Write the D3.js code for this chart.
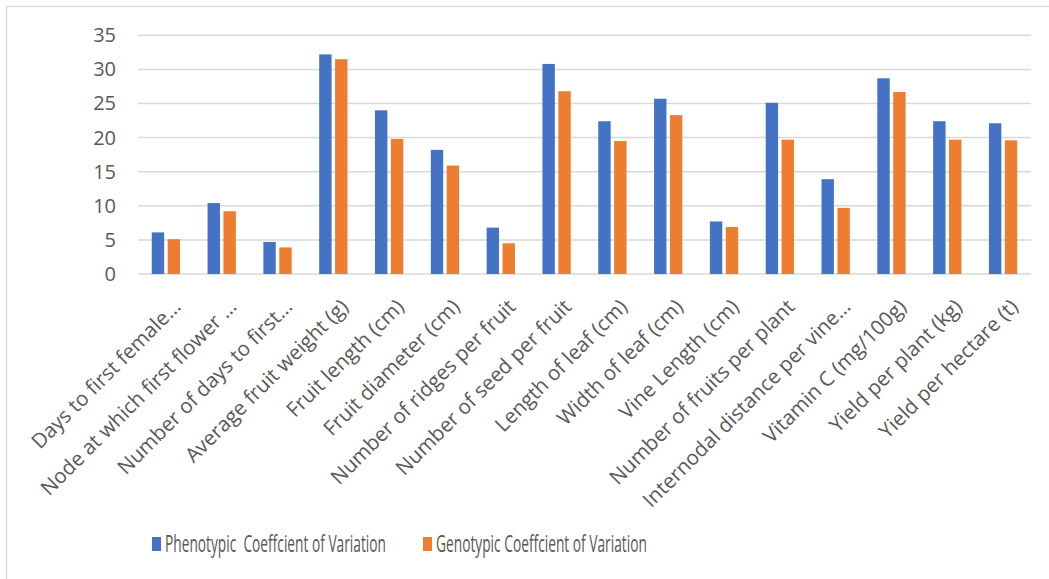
<!DOCTYPE html>
<html>
<head>
<meta charset="utf-8">
<script src="https://cdn.jsdelivr.net/npm/d3@7"></script>
<style>
  html, body { margin: 0; padding: 0; background: #fff; }
  svg { display: block; }
  text { font-family: "Open Sans", "Noto Sans", sans-serif; fill: #595959; }
</style>
</head>
<body>
<svg id="chart" width="1049" height="579"></svg>
<script>
// Traits measured
const categories = [
  "Days to first female\u2026",
  "Node at which first flower \u2026",
  "Number of days to first\u2026",
  "Average fruit weight (g)",
  "Fruit length (cm)",
  "Fruit diameter (cm)",
  "Number of ridges per fruit",
  "Number of seed per fruit",
  "Length of leaf (cm)",
  "Width of leaf (cm)",
  "Vine Length (cm)",
  "Number of fruits per plant",
  "Internodal distance per vine\u2026",
  "Vitamin C (mg/100g)",
  "Yield per plant (kg)",
  "Yield per hectare (t)"
];

// Phenotypic coefficient of variation (%)
const pcv = [6.1, 10.4, 4.7, 32.2, 24.0, 18.2, 6.8, 30.8, 22.4, 25.7, 7.7, 25.1, 13.9, 28.7, 22.4, 22.1];
// Genotypic coefficient of variation (%)
const gcv = [5.1, 9.2, 3.9, 31.5, 19.8, 15.9, 4.5, 26.8, 19.5, 23.3, 6.9, 19.7, 9.7, 26.7, 19.7, 19.6];

const seriesNames = ["Phenotypic  Coeffcient of Variation", "Genotypic Coeffcient of Variation"];
const seriesColors = ["#4472C4", "#ED7D31"];
const yTicks = [0, 5, 10, 15, 20, 25, 30, 35];

const rows = categories.map((c, i) => ({ cat: c, values: [pcv[i], gcv[i]] }));

const svg = d3.select("#chart");
const W = 1049, H = 579;
const plot = { left: 138, right: 1031, top: 35.3, bottom: 274 };

// Outer frame (top and left edges)
svg.append("line").attr("x1", 6.5).attr("x2", W).attr("y1", 6.5).attr("y2", 6.5)
  .attr("stroke", "#d9d9d9").attr("stroke-width", 1.5);
svg.append("line").attr("x1", 6.5).attr("x2", 6.5).attr("y1", 6.5).attr("y2", H)
  .attr("stroke", "#d9d9d9").attr("stroke-width", 1.5);

const x0 = d3.scaleBand().domain(categories)
  .range([plot.left, plot.right]).paddingInner(0.493).paddingOuter(0.2465);
const x1 = d3.scaleBand().domain([0, 1]).range([0, x0.bandwidth()]).paddingInner(0.22);
const y = d3.scaleLinear().domain([0, 35]).range([plot.bottom, plot.top]);

// Gridlines
svg.append("g").selectAll("line").data(yTicks).join("line")
  .attr("x1", plot.left).attr("x2", plot.right)
  .attr("y1", d => y(d)).attr("y2", d => y(d))
  .attr("stroke", "#d9d9d9").attr("stroke-width", 1.5);

// Y axis labels
const yAxis = d3.axisLeft(y).tickValues(yTicks).tickSize(0).tickPadding(0);
const yg = svg.append("g").attr("transform", `translate(116,0)`).call(yAxis);
yg.select(".domain").remove();
yg.selectAll("text").attr("font-size", 20).style("fill", "#595959")
  .style("font-family", "\"Open Sans\", sans-serif");

// Bars
const groups = svg.append("g").selectAll("g").data(rows).join("g")
  .attr("transform", d => `translate(${x0(d.cat)},0)`);
groups.selectAll("rect").data(d => d.values.map((v, k) => ({ v, k }))).join("rect")
  .attr("x", d => x1(d.k))
  .attr("width", x1.bandwidth())
  .attr("y", d => y(d.v))
  .attr("height", d => y(0) - y(d.v))
  .attr("fill", d => seriesColors[d.k]);

// Category labels, rotated
const xAxis = d3.axisBottom(x0).tickSize(0).tickPadding(0);
const xg = svg.append("g").attr("transform", `translate(0,${plot.bottom})`).call(xAxis);
xg.select(".domain").remove();
xg.selectAll(".tick text")
  .attr("font-size", 20.5)
  .style("fill", "#595959")
  .style("font-family", "\"Open Sans\", sans-serif")
  .attr("text-anchor", "end")
  .attr("dy", "0.35em")
  .attr("y", 0)
  .attr("transform", "translate(11,29) rotate(-45)");

// Legend (text narrowed horizontally to the legend's width)
const legendItems = [
  { x: 152, tx: 165, len: 221 },
  { x: 423, tx: 436, len: 211 }
];
const lg = svg.append("g");
legendItems.forEach((it, k) => {
  lg.append("rect").attr("x", it.x).attr("y", 537).attr("width", 9).attr("height", 14)
    .attr("fill", seriesColors[k]);
  const t = lg.append("text").attr("x", 0).attr("y", 0)
    .attr("font-size", 24.5)
    .style("white-space", "pre")
    .text(seriesNames[k]);
  const natural = t.node().getComputedTextLength();
  t.attr("transform", `translate(${it.tx},552) scale(${it.len / natural},1)`);
});
</script>
</body>
</html>
